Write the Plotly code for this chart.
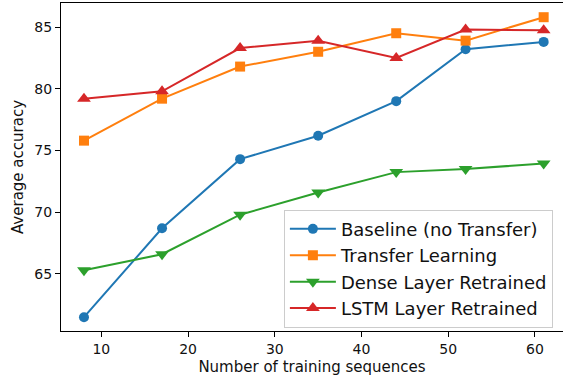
import plotly.graph_objects as go

x_vals = [8, 17, 26, 35, 44, 52, 61]
baseline = [61.5, 68.7, 74.3, 76.2, 79.0, 83.2, 83.8]
transfer = [75.8, 79.2, 81.8, 83.0, 84.5, 83.9, 85.8]
dense = [65.3, 66.6, 69.8, 71.6, 73.25, 73.5, 73.95]
lstm = [79.2, 79.8, 83.3, 83.9, 82.5, 84.8, 84.75]

names = ["Baseline (no Transfer)", "Transfer Learning", "Dense Layer Retrained", "LSTM Layer Retrained"]
colors = ["#1f77b4", "#ff7f0e", "#2ca02c", "#d62728"]
symbols = ["circle", "square", "triangle-down", "triangle-up"]
sizes = [10, 10, 12, 12]
series = [baseline, transfer, dense, lstm]

fig = go.Figure()
for n, c, s, sz, y in zip(names, colors, symbols, sizes, series):
    fig.add_trace(go.Scatter(x=x_vals, y=y, name=n, mode="lines+markers",
                             line=dict(color=c, width=2),
                             marker=dict(symbol=s, size=sz, color=c)))

axis_common = dict(showgrid=False, zeroline=False, showline=True, linecolor="black", linewidth=1.1,
                   ticks="outside", ticklen=5, tickwidth=1.1, tickcolor="black",
                   tickfont=dict(size=14, color="#111111"))
fig.update_layout(
    width=563, height=381,
    margin=dict(l=61, r=0, t=3, b=50),
    paper_bgcolor="white", plot_bgcolor="white",
    font=dict(family="DejaVu Sans", color="#111111"),
    xaxis=dict(range=[5.35, 63.23], tickvals=[10, 20, 30, 40, 50, 60], mirror=True,
               title=dict(text="Number of training sequences", font=dict(size=15), standoff=5),
               **axis_common),
    yaxis=dict(range=[60.38, 86.95], tickvals=[65, 70, 75, 80, 85], mirror=False,
               title=dict(text="Average accuracy", font=dict(size=15), standoff=7),
               **axis_common),
    legend=dict(x=0.444, y=0.37, xanchor="left", yanchor="top",
                bordercolor="#cccccc", borderwidth=1, bgcolor="rgba(255,255,255,0.8)",
                font=dict(size=18), itemwidth=46, tracegroupgap=0),
    showlegend=True,
)

fig.write_html("out.html")
